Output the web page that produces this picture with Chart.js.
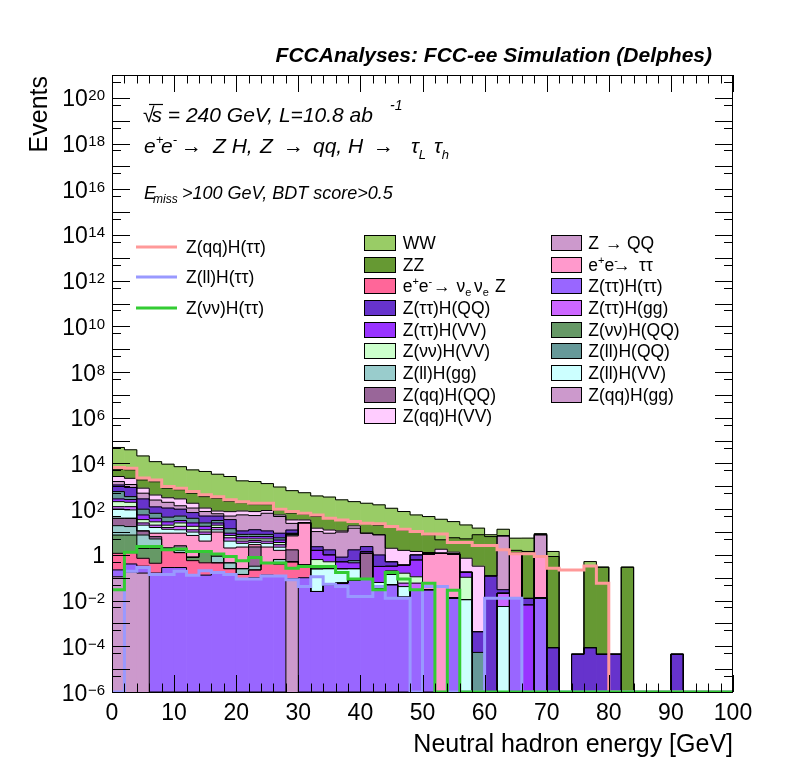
<!DOCTYPE html>
<html><head><meta charset="utf-8"><title>Neutral hadron energy</title>
<script src="https://cdn.jsdelivr.net/npm/chart.js@4.4.1/dist/chart.umd.min.js"></script>
<style>html,body{margin:0;padding:0;background:#fff;}#wrap{position:relative;width:796px;height:772px;}canvas{display:block;}</style>
</head><body><div id="wrap"><canvas id="chart" width="796" height="772"></canvas></div>
<script>
// ---- binning (2 GeV bins, 0-100 GeV) ----
const binCenters = [1,3,5,7,9,11,13,15,17,19,21,23,25,27,29,31,33,35,37,39,41,43,45,47,49,51,53,55,57,59,61,63,65,67,69,71,73,75,77,79,81,83,85,87,89,91,93,95,97,99];
const binEdges = [0,2,4,6,8,10,12,14,16,18,20,22,24,26,28,30,32,34,36,38,40,42,44,46,48,50,52,54,56,58,60,62,64,66,68,70,72,74,76,78,80,82,84,86,88,90,92,94,96,98,100];
const xTickLabels = [0,10,20,30,40,50,60,70,80,90,100];
const yLabelExps = [20,18,16,14,12,10,8,6,4,2,0,-2,-4,-6];

// ---- stacked backgrounds (events per bin) ----
const ZqqHgg = [0.11,0.18,0.16,0,0,0,0,0,0,0, 0,0,0,0,0.089,0,0,0,0,0, 0,0,0,0,0,0,0,0,0,0, 0,0,0,0,0,0,0,0,0,0, 0,0,0,0,0,0,0,0,0,0];
const ZtautauHtautau = [0.11,0.22,0.16,0.16,0.28,0.28,0.13,0.13,0.16,0.14, 0.089,0.1,0.13,0.12,0,0.1,0.025,0.05,0.058,0.08, 0.089,0.032,0.05,0.014,0.03,0.03,0,0.013,0,0, 0,0,0.013,0,0.013,0,0,0,0,0, 0,0,0,0,0,0,0,0,0,0];
const eenunuZ = [0.95,0.86,0.39,0.27,1.3,0.98,0.43,0.32,0.29,0.11, 0.05,0.12,0.32,0.28,0.41,0.26,0,0,0,0, 0,0,0,0,0,0,0,0,0,0, 0,0,0,0,0,0,0,0,0,0, 0,0,0,0,0,0,0,0,0,0];
const ZnunuHQQ = [6.2,6.1,1.2,1.5,0,0,0.23,0.96,0,0, 0,0,0,0,0,0,0,0,0,0, 0,0,0,0,0,0,0,0,0,0, 0,0,0,0,0,0,0,0,0,0, 0,0,0,0,0,0,0,0,0,0];
const ZllHgg = [11.6,10,5.5,3.05,0.42,0.32,0,0,0.44,0.2, 0.11,0.1,0,0.23,0,0,0,0,0,0, 0,0,0,0,0,0,0,0,0,0, 0,0,0,0,0,0,0,0,0,0, 0,0,0,0,0,0,0,0,0,0];
const ZqqHQQ = [21,22.6,3.8,1.3,0,0.92,0,0,0,0, 0,1.9,0,0,1.16,0,0,0,0,0, 1.08,0,0,0,0,0,0,0,0,0, 0,0,0,0,0,0,0,0,0,0, 0,0,0,0,0,0,0,0,0,0];
const eetautau = [0,0,0,2.6,6.9,6.4,6.3,2.6,9.1,1.55, 1.95,0.6,1.75,0.95,5.1,25.3,0,0,0,0, 0,0,0,0,0,1.07,1.17,1.09,0,0, 0,0,1.16,0,0.84,0,0,0,0,0, 0,0,0,0,0,0,0,0,0,0];
const ZllHVV = [62,53,8.8,6.9,4.3,3.7,2.9,3.9,2.6,2, 1,0.7,1,0.6,0.8,0,0.22,0.2,0.19,0.17, 0,0.03,0.09,0.027,0,0,0,0,0.011,0, 0,0.0055,0,0,0,0,0,0,0,0, 0,0,0,0,0,0,0,0,0,0];
const ZtautauHgg = [27,36,5,4.2,2.6,5.2,2.6,2.1,3.2,1.6, 0.8,0.7,0.8,0.6,0,0,0,0,0,0, 0,0,0,0.017,0.028,0,0,0,0,0, 0,0.0155,0,0,0,0,0,0,0,0, 0,0,0,0,0,0,0,0,0,0];
const ZnunuHVV = [85,71,10,8,4.2,7.2,5.2,2.6,4.2,1.5, 1,0.8,1,0.7,0.7,0,0.38,0.25,0,0, 0,0,0.06,0.1,0.052,0,0,0,0.094,0, 0,0,0,0,0,0,0,0,0,0, 0,0,0,0,0,0,0,0,0,0];
const ZtautauHVV = [68,63,21,12,8,7,7.2,5.2,5,1.8, 1.3,1.3,1.3,1,0,0,0.95,0.5,0.25,0.2, 0.24,0.25,0.12,0.2,0.49,0,0,0,0.07,0, 0,0,0,0.0065,0,0,0,0,0,0, 0,0,0,0,0,0,0,0,0,0];
const ZllHQQ = [307,92,44,26,17,18,15,7.2,7,5.1, 1.6,1.6,1.6,1.1,0.6,0,0,0,0,0.11, 0,0,0,0,0,0,0,0,0,0.000054, 0,0,0,0,0,0,0,0,0,0, 0,0,0,0,0,0,0,0,0,0];
const ZtautauHQQ = [560,536,182,60,67,50,31,25,18,21, 3.3,4.7,3.3,3.3,3.4,0,0.7,0.66,0.3,1.1, 0.9,0.68,0.18,0,0.4,0.16,0,0,0,0.00038, 0.12,0.009,0,0.006,0,0.000087,0,0.000045,0.000087,0.000045, 0.000045,0,0,0,0,0.000045,0,0,0,0];
const ZQQ = [474,311,219,125,88,41,41,29,13,15, 45,40,55,39,11.7,0,8.2,7.2,9.2,13.1, 6.6,6.6,0,0,0,0,0,0,0,0, 0,6.8,0,0,6.7,0,0,0,0,0, 0,0,0,0,0,0,0,0,0,0];
const ZqqHVV = [1070,1037,331,166,116,141,70,33,20,28, 27,26,21,8,10,8.2,4.3,3.4,1.2,3.8, 0,0,1.45,1.22,0.41,0,0.6,0.22,0.54,0.32, 0,0,0,0,0,0,0,0,0,0, 0,0,0,0,0,0,0,0,0,0];
const ZZ = [2930,3009,1073,1168,516,426,319,243,219,146, 108,80,71,37,34,26,33,28,20.8,9.4, 15.1,12.4,13.9,10.4,9.1,6.3,2.8,4.3,4.3,7.3, 6.2,0,0.41,1.4,0.5,0.85,0,0,0.31,0.29, 0,0.29,0,0,0,0,0,0,0,0];
const WW = [44500,34563,19475,10438,8501,6536,4747,4112,3086,2468, 1547,1464,1160,840,578,465,332,299,225,186, 158,135,94,67,45.5,40,31.7,23,15.4,7.2, 1.3,6.4,3.8,4.0,0.4,0.56,0,0,0.2,0, 0,0,0,0,0,0,0,0,0,0];

// ---- signal overlays (not stacked) ----
const ZqqHtautau = [6600,6200,2300,1900,980,830,590,430,350,260, 210,180,180,100,79,66,56,40,34,29, 24.5,23,17.4,13.2,10.5,8.3,8.3,3.5,3.5,2.6, 2.6,1.66,1.12,1.12,0.85,0.26,0.22,0.22,0.33,0.058, 0,0,0,0,0,0,0,0,0,0];
const ZllHtautau = [0,0.19,0.28,0.14,0.14,0.19,0.13,0.2,0.17,0.14, 0.089,0.089,0.12,0.12,0.081,0.041,0.11,0.052,0.041,0.015, 0.015,0.041,0.0126,0.0126,0,0.041,0.041,0,0,0, 0.0126,0.0126,0.0126,0,0,0,0,0,0,0, 0,0,0,0,0,0,0,0,0,0];
const ZnunuHtautau = [0.03,1.32,2.3,2.3,1.66,1.82,1.41,1.41,1.1,0.85, 0.55,0.76,0.44,0.44,0.26,0.31,0.31,0.31,0.17,0.087, 0.087,0.03,0.17,0.087,0.03,0.058,0,0.028,0,0, 0,0,0,0,0,0,0,0,0,0, 0,0,0,0,0,0,0,0,0,0];

const Y_MIN = 1e-6, Y_MAX = 1e21;
const FONT = '"Liberation Sans", Arial, Helvetica, sans-serif';

// stacking order: bottom -> top
const stackDefs = [
  {key:'ZqqHgg', data:ZqqHgg, color:'#cc99cc'},
  {key:'ZtautauHtautau', data:ZtautauHtautau, color:'#9966ff'},
  {key:'eenunuZ', data:eenunuZ, color:'#ff6699'},
  {key:'ZnunuHQQ', data:ZnunuHQQ, color:'#669966'},
  {key:'ZllHgg', data:ZllHgg, color:'#99cccc'},
  {key:'ZqqHQQ', data:ZqqHQQ, color:'#996699'},
  {key:'eetautau', data:eetautau, color:'#ff99cc'},
  {key:'ZllHVV', data:ZllHVV, color:'#ccffff'},
  {key:'ZtautauHgg', data:ZtautauHgg, color:'#cc66ff'},
  {key:'ZnunuHVV', data:ZnunuHVV, color:'#ccffcc'},
  {key:'ZtautauHVV', data:ZtautauHVV, color:'#9933ff'},
  {key:'ZllHQQ', data:ZllHQQ, color:'#669999'},
  {key:'ZtautauHQQ', data:ZtautauHQQ, color:'#6633cc'},
  {key:'ZQQ', data:ZQQ, color:'#cc99cc'},
  {key:'ZqqHVV', data:ZqqHVV, color:'#ffccff'},
  {key:'ZZ', data:ZZ, color:'#669933'},
  {key:'WW', data:WW, color:'#99cc66'}
];
const colorOf = {}; stackDefs.forEach(s => colorOf[s.key] = s.color);

const signalDefs = [
  {label:'Z(qq)H(ττ)', data:ZqqHtautau, color:'#ff9999', order:1},
  {label:'Z(ll)H(ττ)', data:ZllHtautau, color:'#9999ff', order:0.5},
  {label:'Z(νν)H(ττ)', data:ZnunuHtautau, color:'#33cc33', order:0}
];

const datasets = [];
stackDefs.forEach(s => {
  datasets.push({
    type:'bar', label:s.key,
    data: binCenters.map((x,i) => ({x:x, y: s.data[i] > 0 ? s.data[i] : null})),
    backgroundColor:s.color, borderWidth:0, order:3,
    xAxisID:'x', yAxisID:'y', barPercentage:1, categoryPercentage:1
  });
});
// black outlines of each cumulative histogram (ROOT THStack look)
let cum = binCenters.map(() => 0);
stackDefs.forEach(s => {
  cum = cum.map((c,i) => c + s.data[i]);
  const c = cum.slice();
  datasets.push({
    type:'line', label:s.key + ' outline',
    data: binEdges.map((x,i) => ({x:x, y: Math.max(c[Math.min(i, c.length-1)], Y_MIN)})),
    borderColor:'#000', borderWidth:1, pointRadius:0, fill:false, stepped:true,
    order:2, xAxisID:'x', yAxisID:'y2'
  });
});
signalDefs.forEach(s => {
  datasets.push({
    type:'line', label:s.label,
    data: binEdges.map((x,i) => ({x:x, y: Math.max(s.data[Math.min(i, s.data.length-1)], Y_MIN)})),
    borderColor:s.color, borderWidth:3, pointRadius:0, fill:false, stepped:true,
    order:s.order, xAxisID:'x', yAxisID:'y2'
  });
});

function rich(ctx, x0, y0, segs, baseStyle, baseSize) {
  let x = x0;
  for (const s of segs) {
    if (s.x !== undefined) x = s.x;
    const st = s.st !== undefined ? s.st : baseStyle;
    const sz = s.sz !== undefined ? s.sz : baseSize;
    ctx.font = `${st} ${sz}px ${FONT}`;
    ctx.fillText(s.t, x, y0 + (s.dy || 0));
    x += ctx.measureText(s.t).width;
  }
}

const legendCol1 = [
  {key:'WW', segs:[{t:'WW'}]},
  {key:'ZZ', segs:[{t:'ZZ'}]},
  {key:'eenunuZ', segs:[{t:'e'},{t:'+',sz:11,dy:-7},{t:'e'},{t:'-',sz:11,dy:-7},{t:'→',x:433},{t:'ν',x:456.5},{t:'e',sz:11,dy:4},{t:'ν',x:474},{t:'e',sz:11,dy:4},{t:'Z',x:495}]},
  {key:'ZtautauHQQ', segs:[{t:'Z(ττ)H(QQ)'}]},
  {key:'ZtautauHVV', segs:[{t:'Z(ττ)H(VV)'}]},
  {key:'ZnunuHVV', segs:[{t:'Z(νν)H(VV)'}]},
  {key:'ZllHgg', segs:[{t:'Z(ll)H(gg)'}]},
  {key:'ZqqHQQ', segs:[{t:'Z(qq)H(QQ)'}]},
  {key:'ZqqHVV', segs:[{t:'Z(qq)H(VV)'}]}
];
const legendCol2 = [
  {key:'ZQQ', segs:[{t:'Z'},{t:'→',x:605},{t:'QQ',x:627}]},
  {key:'eetautau', segs:[{t:'e'},{t:'+',sz:11,dy:-7},{t:'e'},{t:'-',sz:11,dy:-7},{t:'→',x:613},{t:'ττ',x:639}]},
  {key:'ZtautauHtautau', segs:[{t:'Z(ττ)H(ττ)'}]},
  {key:'ZtautauHgg', segs:[{t:'Z(ττ)H(gg)'}]},
  {key:'ZnunuHQQ', segs:[{t:'Z(νν)H(QQ)'}]},
  {key:'ZllHQQ', segs:[{t:'Z(ll)H(QQ)'}]},
  {key:'ZllHVV', segs:[{t:'Z(ll)H(VV)'}]},
  {key:'ZqqHgg', segs:[{t:'Z(qq)H(gg)'}]}
];

const decor = {
  id:'rootDecor',
  afterDatasetsDraw(chart) {
    const ctx = chart.ctx, xs = chart.scales.x, ys = chart.scales.y;
    const a = chart.chartArea;
    const L = Math.round(a.left), R = Math.round(a.right), T = Math.round(a.top), B = Math.round(a.bottom);
    ctx.save();
    ctx.strokeStyle = '#000'; ctx.lineWidth = 1;
    // ticks
    ctx.beginPath();
    for (let v = 0; v <= 100; v += 2) {
      const px = Math.round(xs.getPixelForValue(v)) + 0.5;
      const len = (v % 10 === 0) ? 17 : 8.5;
      ctx.moveTo(px, B); ctx.lineTo(px, B - len);
      ctx.moveTo(px, T); ctx.lineTo(px, T + len);
    }
    for (let d = -6; d <= 21; d++) {
      const py = Math.round(ys.getPixelForValue(Math.pow(10, d))) + 0.5;
      ctx.moveTo(L, py); ctx.lineTo(L + 18, py);
      ctx.moveTo(R, py); ctx.lineTo(R - 18, py);
      if (d < 21) {
        const pm = Math.round(ys.getPixelForValue(5 * Math.pow(10, d))) + 0.5;
        ctx.moveTo(L, pm); ctx.lineTo(L + 9, pm);
        ctx.moveTo(R, pm); ctx.lineTo(R - 9, pm);
      }
    }
    ctx.stroke();
    // frame
    ctx.strokeRect(L + 0.5, T + 0.5, R - L - 1, B - T);
    ctx.fillStyle = '#000';
    ctx.textBaseline = 'alphabetic';
    // x labels
    ctx.font = `23px ${FONT}`; ctx.textAlign = 'center';
    xTickLabels.forEach(v => ctx.fillText(String(v), xs.getPixelForValue(v), 720));
    // y labels
    ctx.textAlign = 'left';
    yLabelExps.forEach(e => {
      const py = ys.getPixelForValue(Math.pow(10, e));
      if (e === 0) {
        ctx.font = `23px ${FONT}`;
        const w = ctx.measureText('1').width;
        ctx.fillText('1', 105 - w, py + 8.5);
        return;
      }
      const sup = e < 0 ? '\u2212' + Math.abs(e) : String(e);
      ctx.font = `15px ${FONT}`; const ws = ctx.measureText(sup).width;
      ctx.font = `23px ${FONT}`; const wm = ctx.measureText('10').width;
      const x0 = 105 - ws - wm - 0.5;
      ctx.fillText('10', x0, py + 8.5);
      ctx.font = `15px ${FONT}`;
      ctx.fillText(sup, x0 + wm + 0.5, py + 2.5);
    });
    // axis titles
    ctx.font = `25px ${FONT}`; ctx.textAlign = 'right';
    ctx.fillText('Neutral hadron energy [GeV]', R, 752);
    ctx.save();
    ctx.translate(47, 76); ctx.rotate(-Math.PI / 2);
    ctx.textAlign = 'right';
    ctx.fillText('Events', 0, 0);
    ctx.restore();
    // title
    ctx.font = `italic bold 21px ${FONT}`; ctx.textAlign = 'right';
    ctx.fillText('FCCAnalyses: FCC-ee Simulation (Delphes)', 712, 62);
    // annotation text
    ctx.textAlign = 'left';
    rich(ctx, 143, 122, [{t:'√', st:'normal'}, {t:'s', x:151.5}, {t:' = 240 GeV, L=10.8 ab'}, {t:'-1', sz:14, dy:-12, x:390}], 'italic', 21);
    ctx.beginPath(); ctx.lineWidth = 1.2; ctx.moveTo(149, 104.5); ctx.lineTo(163, 104.5); ctx.stroke();
    rich(ctx, 144, 153, [
      {t:'e'}, {t:'+', sz:13, dy:-9}, {t:'e', x:161}, {t:'-', sz:13, dy:-9},
      {t:'→', st:'normal', x:181}, {t:'Z H,', x:213}, {t:'Z', x:260}, {t:'→', st:'normal', x:283},
      {t:'qq,', x:313}, {t:'H', x:348}, {t:'→', st:'normal', x:373},
      {t:'τ', x:411}, {t:'L', sz:13, dy:6}, {t:'τ', x:434}, {t:'h', sz:13, dy:6}
    ], 'italic', 21);
    rich(ctx, 144, 199, [{t:'E'}, {t:'miss', sz:12, dy:4, x:153}, {t:'>100 GeV, BDT score>0.5', x:182}], 'italic', 18);
    // signal legend
    const sigY = [247, 277, 308];
    signalDefs.forEach((s, i) => {
      ctx.beginPath(); ctx.strokeStyle = s.color; ctx.lineWidth = 3;
      ctx.moveTo(136, sigY[i]); ctx.lineTo(177, sigY[i]); ctx.stroke();
      ctx.fillStyle = '#000'; ctx.font = `17.5px ${FONT}`;
      ctx.fillText(s.label, 186, sigY[i] + 6);
    });
    // background legend
    ctx.strokeStyle = '#000'; ctx.lineWidth = 1;
    const rowY = i => 243 + i * 21.67;
    const drawCol = (entries, bx, bw, tx) => {
      entries.forEach((e, i) => {
        const cy = rowY(i);
        const by = Math.round(cy - 8);
        ctx.fillStyle = colorOf[e.key];
        ctx.fillRect(bx, by, bw, 16);
        ctx.strokeRect(bx + 0.5, by + 0.5, bw - 1, 15);
        ctx.fillStyle = '#000';
        rich(ctx, tx, cy + 6, e.segs, 'normal', 17.5);
      });
    };
    drawCol(legendCol1, 364, 32, 402.7);
    drawCol(legendCol2, 551, 31, 588.3);
    ctx.restore();
  }
};

new Chart(document.getElementById('chart'), {
  type:'bar',
  data:{datasets:datasets},
  options:{
    responsive:false, animation:false,
    layout:{padding:{left:0, right:63, top:75, bottom:0}},
    plugins:{legend:{display:false}, tooltip:{enabled:false}, title:{display:false}},
    scales:{
      x:{type:'linear', min:0, max:100, offset:false, stacked:true,
         ticks:{display:false, stepSize:10}, grid:{display:false}, border:{display:false},
         afterFit:(s) => { s.height = 80; }},
      y:{type:'logarithmic', position:'left', min:Y_MIN, max:Y_MAX, stacked:true,
         ticks:{display:false}, grid:{display:false}, border:{display:false},
         afterFit:(s) => { s.width = 112; }},
      y2:{type:'logarithmic', display:false, min:Y_MIN, max:Y_MAX, stacked:false}
    }
  },
  plugins:[decor]
});
</script>
</body></html>
